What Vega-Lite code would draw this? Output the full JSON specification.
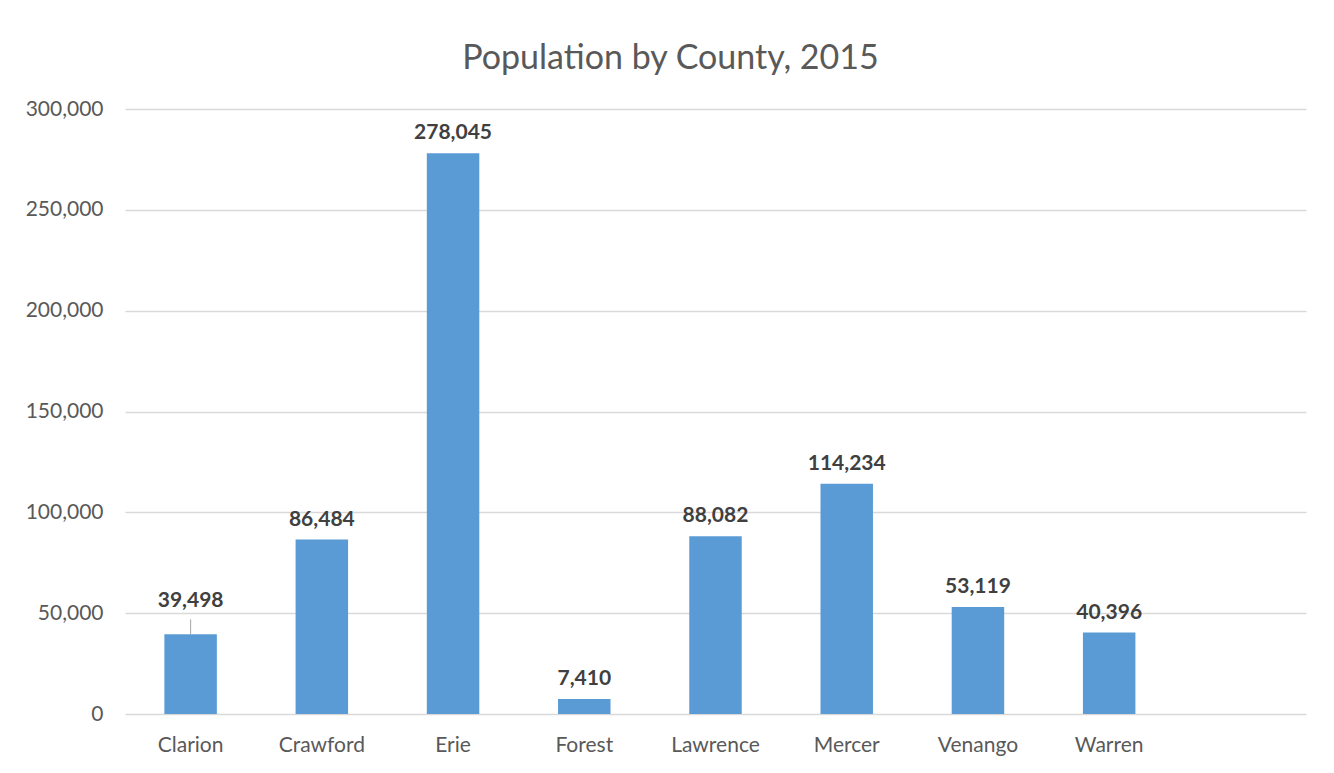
{
  "$schema": "https://vega.github.io/schema/vega-lite/v6.json",
  "autosize": {"type": "none"},
  "width": 1181,
  "height": 605,
  "padding": {"left": 125, "top": 109, "right": 28, "bottom": 59},
  "background": "white",
  "title": {
    "text": "Population by County, 2015",
    "font": "Lato",
    "fontSize": 34,
    "fontWeight": "normal",
    "color": "#595959",
    "anchor": "middle",
    "dx": -45,
    "offset": 22
  },
  "config": {
    "view": {"stroke": null},
    "font": "Lato"
  },
  "data": {
    "values": [
      {"county": "Clarion", "population": 39498},
      {"county": "Crawford", "population": 86484},
      {"county": "Erie", "population": 278045},
      {"county": "Forest", "population": 7410},
      {"county": "Lawrence", "population": 88082},
      {"county": "Mercer", "population": 114234},
      {"county": "Venango", "population": 53119},
      {"county": "Warren", "population": 40396}
    ]
  },
  "encoding": {
    "x": {
      "field": "county",
      "type": "nominal",
      "sort": null,
      "scale": {
        "domain": ["Clarion", "Crawford", "Erie", "Forest", "Lawrence", "Mercer", "Venango", "Warren", " "],
        "paddingInner": 0.6,
        "paddingOuter": 0.3
      },
      "axis": {
        "title": null,
        "labelAngle": 0,
        "ticks": false,
        "domain": false,
        "labelFont": "Lato",
        "labelFontSize": 21,
        "labelColor": "#595959",
        "labelPadding": 20
      }
    },
    "y": {
      "field": "population",
      "type": "quantitative",
      "scale": {"domain": [0, 300000], "nice": false},
      "axis": {
        "title": null,
        "values": [0, 50000, 100000, 150000, 200000, 250000, 300000],
        "format": ",.0f",
        "ticks": false,
        "domain": false,
        "grid": true,
        "gridColor": "#d9d9d9",
        "gridWidth": 1.3,
        "labelFont": "Lato",
        "labelFontSize": 21,
        "labelColor": "#595959",
        "labelPadding": 22
      }
    }
  },
  "layer": [
    {
      "mark": {"type": "bar", "color": "#5b9bd5"}
    },
    {
      "transform": [{"filter": "datum.county !== 'Clarion'"}],
      "mark": {
        "type": "text",
        "baseline": "alphabetic",
        "dy": -14,
        "font": "Lato",
        "fontSize": 21,
        "fontWeight": "bold",
        "color": "#404040"
      },
      "encoding": {"text": {"field": "population", "type": "quantitative", "format": ",.0f"}}
    },
    {
      "transform": [{"filter": "datum.county === 'Clarion'"}],
      "mark": {
        "type": "text",
        "baseline": "alphabetic",
        "dy": -27,
        "font": "Lato",
        "fontSize": 21,
        "fontWeight": "bold",
        "color": "#404040"
      },
      "encoding": {"text": {"field": "population", "type": "quantitative", "format": ",.0f"}}
    },
    {
      "transform": [{"filter": "datum.county === 'Clarion'"}],
      "mark": {"type": "rule", "color": "#a6a6a6", "strokeWidth": 1, "y2Offset": -15},
      "encoding": {
        "y2": {"field": "population"}
      }
    }
  ]
}
